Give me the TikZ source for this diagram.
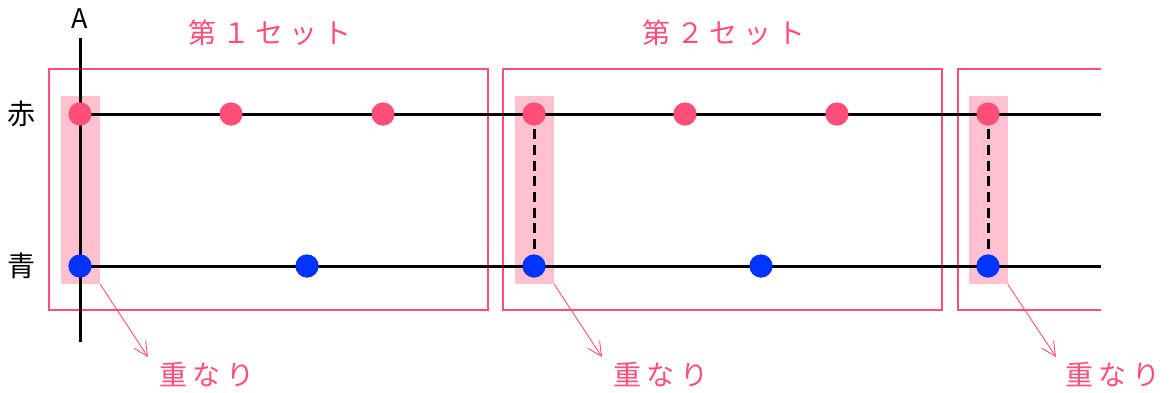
\documentclass[tikz,border=0pt]{standalone}
\usepackage{fontspec}
\newfontfamily\jp[LetterSpace=20]{Noto Sans CJK JP}
\newfontfamily\jpn{Noto Sans CJK JP}
\usetikzlibrary{arrows.meta}
\definecolor{cred}{HTML}{FF4F78}
\definecolor{cpink}{HTML}{FFC1CF}
\definecolor{cblue}{HTML}{0033FF}
\begin{document}
\begin{tikzpicture}[x=1pt,y=-1pt,
  rdot/.style={circle,fill=cred,inner sep=0pt,minimum size=23pt},
  bdot/.style={circle,fill=cblue,inner sep=0pt,minimum size=23pt},
  pinkrect/.style={fill=cpink,draw=none,inner sep=0pt,minimum width=39pt,minimum height=188pt},
  setbox/.style={draw=cred,line width=2.8pt},
  axisline/.style={draw=black,line width=3pt},
  overlap/.style={draw=black,line width=3pt,dash pattern=on 10pt off 5.7pt},
  callout/.style={draw=cred,line width=0.9pt,-{Straight Barb[length=14pt,width=14pt,line width=0.9pt]}},
  pinktext/.style={text=cred,font=\jp\fontsize{28}{28}\selectfont,inner sep=0pt},
  blacktext/.style={text=black,font=\jpn\fontsize{28}{28}\selectfont,inner sep=0pt}]
\useasboundingbox (0,0) rectangle (1171,392);

% pink highlight columns
\node[pinkrect] (p1) at (80.5,190) {};
\node[pinkrect] (p2) at (534.5,190) {};
\node[pinkrect] (p3) at (988,190) {};

% set boxes
\draw[setbox] (49,69) rectangle (488,310);
\draw[setbox] (503,69) rectangle (942,310);
\draw[setbox] (1101,69) -- (958,69) -- (958,310) -- (1101,310);

% axis A
\coordinate (atop) at (80,38);
\coordinate (abot) at (80,342);
\draw[axisline] (atop) -- (abot);
\node[blacktext,font=\jpn\fontsize{27}{27}\selectfont] (A) at (80,19) {A};

% dot positions
\node[rdot] (r1) at (80,114) {};
\node[rdot] (r2) at (231,114) {};
\node[rdot] (r3) at (383,114) {};
\node[rdot] (r4) at (534,114) {};
\node[rdot] (r5) at (685,114) {};
\node[rdot] (r6) at (837,114) {};
\node[rdot] (r7) at (988,114) {};
\node[bdot] (b1) at (80,266) {};
\node[bdot] (b2) at (307,266) {};
\node[bdot] (b3) at (534,266) {};
\node[bdot] (b4) at (761,266) {};
\node[bdot] (b5) at (988,266) {};
\coordinate (rend) at (1101,114);
\coordinate (bend) at (1101,266);

% horizontal lines
\draw[axisline] (r1.center) -- (rend);
\draw[axisline] (b1.center) -- (bend);
% dots drawn on top of the lines
\foreach \x in {80,231,383,534,685,837,988}
  \fill[cred] (\x,114) circle (11.5pt);
\foreach \x in {80,307,534,761,988}
  \fill[cblue] (\x,266) circle (11.5pt);

% dashed overlaps
\path (r4.south) ++(0,3.5) coordinate (d4a) (b3.north) ++(0,-4) coordinate (d4b);
\draw[overlap] (d4a) -- (d4b);
\path (r7.south) ++(0,3.5) coordinate (d7a) (b5.north) ++(0,-4) coordinate (d7b);
\draw[overlap] (d7a) -- (d7b);

% row labels
\node[blacktext] (aka) at (21,114) {赤};
\node[blacktext] (ao) at (21,266) {青};

% set titles
\node[pinktext] (s1) at (270,33) {第１セット};
\node[pinktext] (s2) at (724,33) {第２セット};

% callouts
\coordinate (e1) at (148,357);
\coordinate (e2) at (602,357);
\coordinate (e3) at (1056,357);
\draw[callout] (p1.south east) -- (e1);
\draw[callout] (p2.south east) -- (e2);
\draw[callout] (p3.south east) -- (e3);
\node[pinktext] (k1) at (207,375) {重なり};
\node[pinktext] (k2) at (661,375) {重なり};
\node[pinktext] (k3) at (1113,375) {重なり};
\end{tikzpicture}
\end{document}
